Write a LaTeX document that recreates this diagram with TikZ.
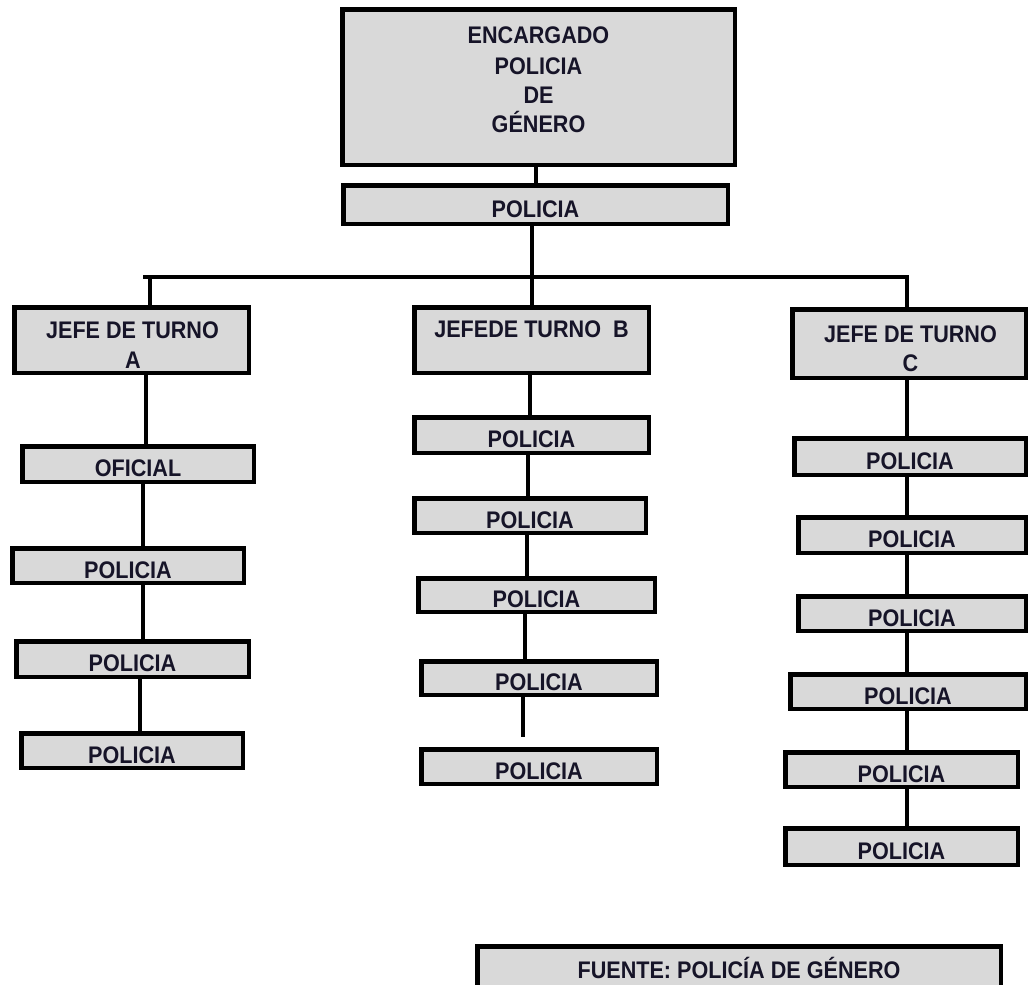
\documentclass[tikz,border=0pt]{standalone}
\usepackage{fontspec}
\setmainfont{Liberation Sans}[FakeStretch=0.9]
\usetikzlibrary{backgrounds}
\definecolor{boxgray}{RGB}{217,217,217}
\definecolor{txtcol}{RGB}{22,20,40}
\begin{document}
\begin{tikzpicture}[x=1pt,y=-1pt,line join=miter,
  bx/.style={draw=black, fill=boxgray, line width=4.5pt, inner sep=0pt, text=txtcol,
    font=\bfseries\fontsize{24}{29}\selectfont, text height=25.2pt, text depth=0pt},
  srcbx/.style={bx, text height=21.2pt},
  sz/.style 2 args={minimum width=#1pt, minimum height=#2pt},
  lbl/.style={text=txtcol, font=\bfseries\fontsize{24}{29}\selectfont, inner sep=0pt, anchor=base},
  ln/.style={draw=black, line width=4pt}]
\useasboundingbox (0,0) rectangle (1028,985);

% top
\node[bx, sz={392.5}{155.5}] (top) at (538.5,87) {};
\node[lbl] (t1) at (538.5,43) {ENCARGADO};
\node[lbl] (t2) at (538.5,74) {POLICIA};
\node[lbl] (t3) at (538.5,103) {DE};
\node[lbl] (t4) at (538.5,132) {GÉNERO};
\node[bx, sz={384.5}{38.5}] (pol0) at (535.5,204.5) {POLICIA};

% column A
\node[bx, sz={234.5}{65.5}] (ja) at (131.5,340) {};
\node[lbl] (ja1) at (132.5,338) {JEFE DE TURNO};
\node[lbl] (ja2) at (133,368) {A};
\node[bx, sz={231.5}{35.5}] (ao) at (138,464) {OFICIAL};
\node[bx, sz={231.5}{34.5}] (a1) at (128,565.5) {POLICIA};
\node[bx, sz={232.5}{35.5}] (a2) at (132.5,659) {POLICIA};
\node[bx, sz={221.5}{34.5}] (a3) at (132,750.5) {POLICIA};

% column B
\node[bx, sz={234.5}{65.5}] (jb) at (531.5,340) {};
\node[lbl] (jb1) at (531.5,337) {JEFEDE TURNO~~B};
\node[bx, sz={234.5}{35.5}] (b1) at (531.5,435) {POLICIA};
\node[bx, sz={231.5}{34.5}] (b2) at (530,515.5) {POLICIA};
\node[bx, sz={236.5}{33.5}] (b3) at (536.5,595) {POLICIA};
\node[bx, sz={235.5}{33.5}] (b4) at (539,678) {POLICIA};
\node[bx, sz={235.5}{34.5}] (b5) at (539,766.5) {POLICIA};

% column C
\node[bx, sz={233.5}{68.5}] (jc) at (909,343.5) {};
\node[lbl] (jc1) at (910.5,342) {JEFE DE TURNO};
\node[lbl] (jc2) at (910.5,371) {C};
\node[bx, sz={231.5}{36.5}] (c1) at (910,456.5) {POLICIA};
\node[bx, sz={227.5}{35.5}] (c2) at (912,535) {POLICIA};
\node[bx, sz={227.5}{34.5}] (c3) at (912,613.5) {POLICIA};
\node[bx, sz={235.5}{34.5}] (c4) at (908,691.5) {POLICIA};
\node[bx, sz={232.5}{34.5}] (c5) at (901.5,769.5) {POLICIA};
\node[bx, sz={232.5}{36.5}] (c6) at (901.5,846.5) {POLICIA};

% source
\node[srcbx, sz={523.5}{43.5}] (src) at (739,968) {FUENTE: POLICÍA DE GÉNERO};

\coordinate (busL) at (143,277);
\coordinate (busR) at (907,277);
\coordinate (bEnd) at (523,737);

\begin{scope}[on background layer]
\draw[ln] (536,0 |- top.south) -- (536,0 |- pol0.north);
\draw[ln] (jb.north |- pol0.south) -- (jb.north);
\draw[ln] (busL) -- (busR) -- (busR |- jc.north);
\draw[ln] (150,0 |- busL) -- (150,0 |- ja.north);
% A
\draw[ln] (146,0 |- ja.south) -- (146,0 |- ao.north);
\draw[ln] (143,0 |- ao.south) -- (143,0 |- a1.north);
\draw[ln] (143,0 |- a1.south) -- (143,0 |- a2.north);
\draw[ln] (140,0 |- a2.south) -- (140,0 |- a3.north);
% B
\draw[ln] (530,0 |- jb.south) -- (530,0 |- b1.north);
\draw[ln] (528,0 |- b1.south) -- (528,0 |- b2.north);
\draw[ln] (527,0 |- b2.south) -- (527,0 |- b3.north);
\draw[ln] (525,0 |- b3.south) -- (525,0 |- b4.north);
\draw[ln] (bEnd |- b4.south) -- (bEnd);
% C
\draw[ln] (907,0 |- jc.south) -- (907,0 |- c1.north);
\draw[ln] (907,0 |- c1.south) -- (907,0 |- c2.north);
\draw[ln] (907,0 |- c2.south) -- (907,0 |- c3.north);
\draw[ln] (907,0 |- c3.south) -- (907,0 |- c4.north);
\draw[ln] (907,0 |- c4.south) -- (907,0 |- c5.north);
\draw[ln] (907,0 |- c5.south) -- (907,0 |- c6.north);
\end{scope}
\end{tikzpicture}
\end{document}
